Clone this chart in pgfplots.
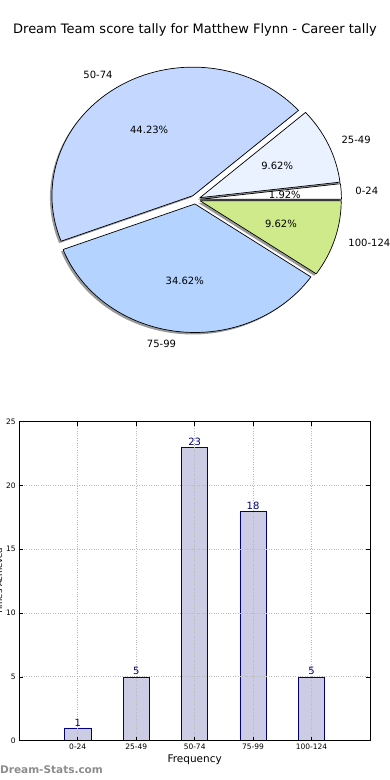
\documentclass[border=0pt]{standalone}
\usepackage{pgfplots}
\pgfplotsset{compat=1.18}
\usepackage{fontspec}
\setmainfont{DejaVu Sans}
\definecolor{c2549}{RGB}{234,241,255}
\definecolor{c5074}{RGB}{196,216,255}
\definecolor{c7599}{RGB}{180,212,255}
\definecolor{c100}{RGB}{207,234,139}
\definecolor{barfill}{RGB}{204,204,228}
\definecolor{navy}{RGB}{0,0,128}
\begin{document}
\begin{tikzpicture}[x=1pt,y=1pt]
% ---------- pie ----------
\begin{axis}[at={(0pt,0pt)}, anchor=south west, scale only axis,
  width=390pt, height=780pt, xmin=0, xmax=390, ymin=0, ymax=780,
  hide axis, clip=false]
\pgfplotsextra{
  \def\rx{141}\def\ry{128.5}\def\cx{195.5}\def\cy{580.5}\def\tot{52}
  % shadows
  \foreach \v [remember=\b as \a (initially 0)] in {1,5,23,18,5} {
    \pgfmathsetmacro\b{\a+\v*360/\tot}
    \pgfmathsetmacro\m{(\a+\b)/2}
    \pgfmathsetmacro\px{\cx+0.035*\rx*cos(\m)-2}
    \pgfmathsetmacro\py{\cy+0.035*\ry*sin(\m)-2}
    \fill[black!40] (\px,\py) -- ++(\a:\rx pt and \ry pt)
      arc[start angle=\a, end angle=\b, x radius=\rx pt, y radius=\ry pt] -- cycle;
  }
  % wedges
  \foreach \v/\col [remember=\b as \a (initially 0)] in {1/white,5/c2549,23/c5074,18/c7599,5/c100} {
    \pgfmathsetmacro\b{\a+\v*360/\tot}
    \pgfmathsetmacro\m{(\a+\b)/2}
    \pgfmathsetmacro\px{\cx+0.035*\rx*cos(\m)}
    \pgfmathsetmacro\py{\cy+0.035*\ry*sin(\m)}
    \filldraw[fill=\col, draw=black, line width=0.7pt, line join=round] (\px,\py) -- ++(\a:\rx pt and \ry pt)
      arc[start angle=\a, end angle=\b, x radius=\rx pt, y radius=\ry pt] -- cycle;
  }
  % labels
  \foreach \v/\lab [remember=\b as \a (initially 0)] in {1/0-24,5/25-49,23/50-74,18/75-99,5/100-124} {
    \pgfmathsetmacro\b{\a+\v*360/\tot}
    \pgfmathsetmacro\m{(\a+\b)/2}
    \pgfmathsetmacro\cm{cos(\m)}
    \pgfmathsetmacro\p{\v*100/\tot}
    \pgfmathsetmacro\qx{\cx+0.035*\rx*cos(\m)+0.6*\rx*cos(\m)}
    \pgfmathsetmacro\qy{\cy+0.035*\ry*sin(\m)+0.6*\ry*sin(\m)}
    \pgfmathsetmacro\lx{\cx+0.035*\rx*cos(\m)+1.1*\rx*cos(\m)}
    \pgfmathsetmacro\ly{\cy+0.035*\ry*sin(\m)+1.1*\ry*sin(\m)}
    \ifdim\cm pt>0pt \def\anc{west}\else\def\anc{east}\fi
    \node[font=\fontsize{10}{12}\selectfont, inner sep=0pt] at (\qx,\qy)
      {\pgfmathprintnumber[fixed,precision=2,fixed zerofill,assume math mode=true]{\p}\%};
    \node[font=\fontsize{10}{12}\selectfont, inner sep=0pt, anchor=\anc] at (\lx,\ly) {\lab};
  }
}
\end{axis}
\node[font=\fontsize{13}{15}\selectfont] at (195pt,750pt) {Dream Team score tally for Matthew Flynn - Career tally};
% ---------- bars ----------
\begin{axis}[at={(19.3pt,39.3pt)}, anchor=south west, scale only axis,
  width=350.7pt, height=319pt,
  xmin=0, xmax=6, ymin=0, ymax=25,
  xtick={1,2,3,4,5}, xticklabels={0-24,25-49,50-74,75-99,100-124},
  ytick={0,5,10,15,20,25},
  /pgf/number format/assume math mode=true,
  ticklabel style={font=\fontsize{7.5}{8}\selectfont},
  grid=major, grid style={dotted, black!28, line width=0.9pt},
  tick align=inside, major tick length=4pt,
  tick style={black, line width=0.5pt},
  axis line style={line width=0.8pt},
  axis on top,
  xlabel={Frequency},
  xlabel style={at={(axis description cs:0.5,0)}, anchor=center, yshift=-19.3pt, font=\fontsize{10.5}{12}\selectfont},
  ylabel={Times Achieved},
  ylabel style={at={(axis description cs:-0.0479,0.5)}, anchor=south, inner sep=0pt, font=\fontsize{8.5}{10}\selectfont},
]
\addplot[ybar, bar width=0.45, fill=barfill, draw=navy, line width=0.7pt,
  nodes near coords, nodes near coords style={font=\fontsize{10}{11}\selectfont, text=navy, inner sep=1.5pt}]
  coordinates {(1,1) (2,5) (3,23) (4,18) (5,5)};
\end{axis}
\node[anchor=west, inner sep=0pt, text=black!45, font=\bfseries\fontsize{10.5}{12}\selectfont] at (0pt,10pt) {Dream-Stats.com};
\pgfresetboundingbox
\path[use as bounding box] (0pt,0pt) rectangle (390pt,780pt);
\end{tikzpicture}
\end{document}
